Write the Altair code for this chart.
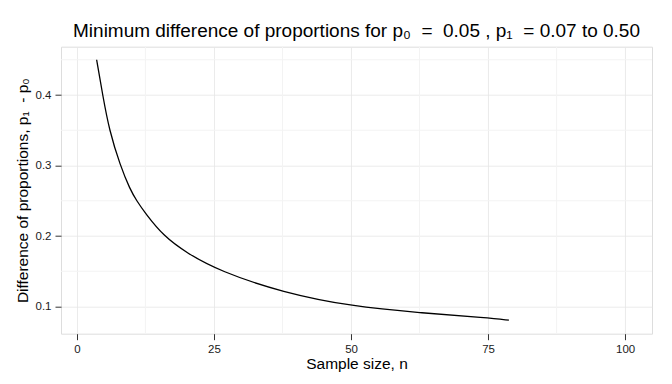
import altair as alt
import pandas as pd

# Curve: sample size n vs. minimum difference p1 - p0
n_vals = [3.6, 4.7, 5.9, 7.9, 9.7, 10.9, 12.5, 15.8, 20.0, 26.1, 37.5, 50.3, 62.5, 75.0, 78.8]
d_vals = [0.450, 0.400, 0.350, 0.300, 0.266, 0.250, 0.232, 0.200, 0.176, 0.150, 0.120, 0.100, 0.0912, 0.0840, 0.0806]

x_major = [0, 25, 50, 75, 100]
x_minor = [12.5, 37.5, 62.5, 87.5]
y_major = [0.1, 0.2, 0.3, 0.4]
y_minor = [0.15, 0.25, 0.35, 0.45]

NB = "\u00a0"
title_text = f"Minimum difference of proportions for p\u2080{NB}{NB}={NB}{NB}0.05 , p\u2081{NB}{NB}= 0.07 to 0.50"
x_title = "Sample size, n"
y_title = f"Difference of proportions, p\u2081{NB}{NB}- p\u2080"

FONT = "Liberation Sans"

xs = alt.Scale(domain=[-2.9, 104.9], nice=False, zero=False)
ys = alt.Scale(domain=[0.0615, 0.4685], nice=False, zero=False)

xaxis = alt.Axis(
    title=x_title, values=x_major, format="d", grid=True, gridColor="#e6e6e6",
    gridWidth=0.8, domain=False, ticks=True, tickColor="#333333", tickSize=6,
    tickWidth=1, labelFont=FONT, labelFontSize=11.5, labelColor="#1a1a1a",
    labelPadding=3.5, titleFont=FONT, titleFontSize=15.5, titleFontWeight="normal",
    titleColor="#000000", titlePadding=2,
)
yaxis = alt.Axis(
    title=y_title, values=y_major, format=".1f", grid=True, gridColor="#e6e6e6",
    gridWidth=0.8, domain=False, ticks=True, tickColor="#333333", tickSize=6,
    tickWidth=1, labelFont=FONT, labelFontSize=11.5, labelColor="#1a1a1a",
    labelPadding=4, titleFont=FONT, titleFontSize=15.5, titleFontWeight="normal",
    titleColor="#000000", titlePadding=5,
)

curve = pd.DataFrame({"n": n_vals, "d": d_vals})
vminor = pd.DataFrame({"n": x_minor})
hminor = pd.DataFrame({"d": y_minor})

vgrid = alt.Chart(vminor).mark_rule(color="#f3f3f3", strokeWidth=1).encode(
    x=alt.X("n:Q", scale=xs, axis=xaxis)
)
hgrid = alt.Chart(hminor).mark_rule(color="#f3f3f3", strokeWidth=1).encode(
    y=alt.Y("d:Q", scale=ys, axis=yaxis)
)
line = alt.Chart(curve).mark_line(color="#000000", strokeWidth=1.3, interpolate="basis").encode(
    x=alt.X("n:Q", scale=xs, axis=xaxis),
    y=alt.Y("d:Q", scale=ys, axis=yaxis),
)

chart = (
    alt.layer(vgrid, hgrid, line)
    .properties(
        width=591,
        height=287,
        title=alt.TitleParams(
            text=title_text, font=FONT, fontSize=19, fontWeight="normal",
            color="#000000", anchor="middle", baseline="alphabetic",
            frame="group", offset=9.7, dy=20,
        ),
        autosize=alt.AutoSizeParams(type="none"),
        padding={"left": 53, "top": 38.7, "right": 12, "bottom": 42},
    )
    .configure_view(stroke="#7f7f7f", strokeWidth=1)
    .configure(background="#ffffff")
)

chart.save("out.html", embed_options={"renderer": "svg", "actions": False})
